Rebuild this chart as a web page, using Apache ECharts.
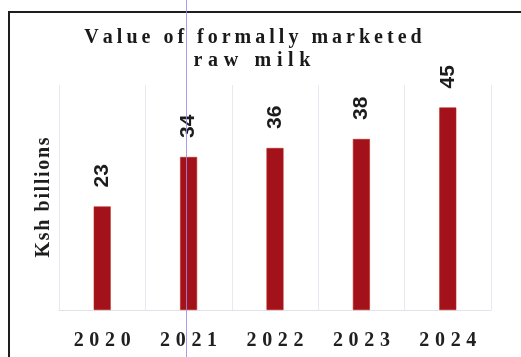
<!DOCTYPE html>
<html>
<head>
<meta charset="utf-8">
<script src="https://cdn.jsdelivr.net/npm/echarts@6/dist/echarts.min.js"></script>
<style>
  html, body { margin: 0; padding: 0; background: #fff; }
  #chart { width: 521px; height: 357px; }
</style>
</head>
<body>
<div id="chart"></div>
<script>
// Value of formally marketed raw milk, Ksh billions
const years = ['2020', '2021', '2022', '2023', '2024'];
const values = [23, 34, 36, 38, 45];
const titleLines = ['Value of formally marketed', 'raw milk'];
const yName = 'Ksh billions';

// widen tracking by inserting thin spaces between characters
const track = (s, sp) => s.split('').join(sp);
const THIN = '\u2009';
const HAIR = '\u200A';

const serif = '"Liberation Serif", "DejaVu Serif", serif';
const sans = '"Liberation Sans", Arial, sans-serif';

const chart = echarts.init(document.getElementById('chart'), null, { renderer: 'canvas' });

chart.setOption({
  animation: false,
  backgroundColor: '#ffffff',
  grid: { left: 59, right: 30, top: 85, bottom: 47, containLabel: false },
  xAxis: {
    type: 'category',
    data: years,
    boundaryGap: true,
    axisLine: { show: true, lineStyle: { color: '#e3e1ea', width: 1 } },
    axisTick: { show: false },
    splitLine: { show: true, lineStyle: { color: '#e9e7f1', width: 1 } },
    axisLabel: {
      margin: 21,
      fontFamily: serif,
      fontWeight: 'bold',
      fontSize: 20,
      color: '#202020',
      formatter: v => track(v, THIN + HAIR)
    }
  },
  yAxis: {
    type: 'value',
    min: 0,
    max: 50,
    name: track(yName, HAIR),
    nameLocation: 'middle',
    nameRotate: 90,
    nameGap: 5,
    nameTextStyle: {
      fontFamily: serif,
      fontWeight: 'bold',
      fontSize: 20,
      color: '#1e1e1e'
    },
    axisLine: { show: false },
    axisTick: { show: false },
    axisLabel: { show: false },
    splitLine: { show: false }
  },
  series: [{
    type: 'bar',
    data: values,
    barWidth: 17,
    itemStyle: { color: '#a3121a', borderColor: '#b8251c', borderWidth: 0.6 },
    label: {
      show: true,
      position: 'top',
      rotate: 90,
      align: 'left',
      verticalAlign: 'middle',
      distance: 19,
      fontFamily: sans,
      fontWeight: 'bold',
      fontSize: 21,
      color: '#1c1c1c'
    }
  }],
  graphic: [
    // outer frame (left and top edges)
    { type: 'line', shape: { x1: 9, y1: 12, x2: 9, y2: 357 }, style: { stroke: '#1e1e1e', lineWidth: 2 }, z: 10 },
    { type: 'line', shape: { x1: 8, y1: 12, x2: 521, y2: 12 }, style: { stroke: '#1e1e1e', lineWidth: 2 }, z: 10 },
    // title
    { type: 'text', x: 253, y: 38, style: { text: track(titleLines[0], THIN), font: 'bold 20px ' + serif, fill: '#1a1a1a', textAlign: 'center', textVerticalAlign: 'middle' }, z: 10 },
    { type: 'text', x: 252, y: 61, style: { text: track(titleLines[1], THIN + HAIR), font: 'bold 20px ' + serif, fill: '#1a1a1a', textAlign: 'center', textVerticalAlign: 'middle' }, z: 10 },
    // thin violet rule across the page
    { type: 'line', shape: { x1: 186.5, y1: 0, x2: 186.5, y2: 357 }, style: { stroke: '#9a8ce6', lineWidth: 1, opacity: 0.85 }, z: 20 }
  ]
});
</script>
</body>
</html>
